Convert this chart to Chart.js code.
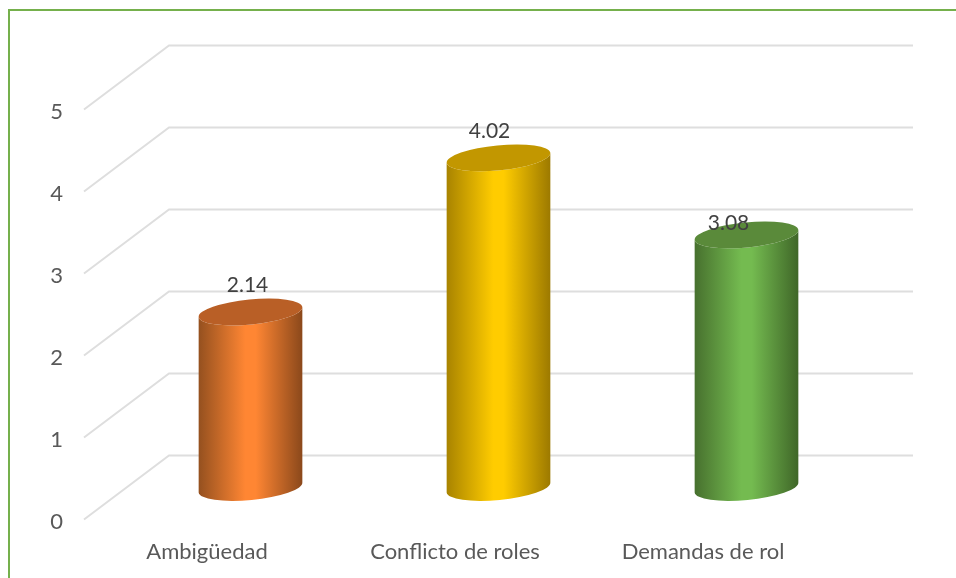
<!DOCTYPE html>
<html>
<head>
<meta charset="utf-8">
<title>Chart</title>
<script src="https://cdn.jsdelivr.net/npm/chart.js@4"></script>
<style>
  html, body { margin: 0; padding: 0; background: #fff; overflow: hidden; }
  #wrap { position: relative; width: 956px; height: 578px; }
  #frame { position: absolute; left: 8px; top: 9px; right: -4px; bottom: -4px; border: 2px solid #75b04c; }
  canvas { position: absolute; left: 0; top: 0; }
</style>
</head>
<body>
<div id="wrap">
  <div id="frame"></div>
  <canvas id="myChart" width="956" height="578"></canvas>
</div>
<script>
const categories = ['Ambigüedad', 'Conflicto de roles', 'Demandas de rol'];
const values = [2.14, 4.02, 3.08];
const yTicks = [0, 1, 2, 3, 4, 5];

// body colours: edge, middle, edge, then the flat top
const barColors = [
  ['#94501f', '#ff8633', '#8a481b', '#b95f26'],
  ['#a88300', '#ffcc00', '#9c7900', '#c29700'],
  ['#47702e', '#74bb50', '#3f6628', '#5a8a3a']
];
// the labels sit by hand in the original, not at one fixed distance
const labelNudge = [[-3, -27], [-9, -27], [-18, -12]];

const depthX = 85;
const depthY = 64;
const wallRight = 913;
const ringRatio = 0.24;
const ringTilt = -5.5 * Math.PI / 180;

const grid3d = {
  id: 'grid3d',
  beforeDatasetsDraw(chart) {
    const { ctx, scales: { y } } = chart;
    ctx.save();
    ctx.strokeStyle = '#dedede';
    ctx.lineWidth = 2;
    yTicks.forEach(t => {
      const py = y.getPixelForValue(t);
      ctx.beginPath();
      ctx.moveTo(y.right, py);
      ctx.lineTo(y.right + depthX, py - depthY);
      ctx.lineTo(wallRight, py - depthY);
      ctx.stroke();
    });
    ctx.restore();
  }
};

const cylinders = {
  id: 'cylinders',
  afterDatasetsDraw(chart) {
    const ctx = chart.ctx;
    const bars = chart.getDatasetMeta(0).data;
    bars.forEach((bar, i) => {
      const colors = barColors[i];
      const cx = bar.x + depthX / 2;
      const topY = bar.y - depthY / 2;
      const baseY = bar.base - depthY / 2;
      const rx = bar.width / 2;
      const ry = rx * ringRatio;
      const dx = rx * Math.cos(ringTilt);
      const dy = rx * Math.sin(ringTilt);

      const gradient = ctx.createLinearGradient(cx - rx, 0, cx + rx, 0);
      gradient.addColorStop(0, colors[0]);
      gradient.addColorStop(0.45, colors[1]);
      gradient.addColorStop(0.55, colors[1]);
      gradient.addColorStop(1, colors[2]);

      ctx.save();
      ctx.beginPath();
      ctx.moveTo(cx - dx, topY - dy);
      ctx.lineTo(cx - dx, baseY - dy);
      ctx.ellipse(cx, baseY, rx, ry, ringTilt, Math.PI, 0, true);
      ctx.lineTo(cx + dx, topY + dy);
      ctx.ellipse(cx, topY, rx, ry, ringTilt, 0, Math.PI, false);
      ctx.closePath();
      ctx.fillStyle = gradient;
      ctx.fill();

      ctx.beginPath();
      ctx.ellipse(cx, topY, rx, ry, ringTilt, 0, Math.PI * 2);
      ctx.fillStyle = colors[3];
      ctx.fill();

      ctx.fillStyle = '#404040';
      ctx.font = '21px Lato';
      ctx.textAlign = 'center';
      ctx.textBaseline = 'middle';
      ctx.fillText(values[i].toFixed(2), cx + labelNudge[i][0], topY + labelNudge[i][1]);
      ctx.restore();
    });
  }
};

new Chart(document.getElementById('myChart').getContext('2d'), {
  type: 'bar',
  data: {
    labels: categories,
    datasets: [{
      data: values,
      backgroundColor: 'rgba(0,0,0,0)',
      barPercentage: 0.42,
      categoryPercentage: 1
    }]
  },
  options: {
    responsive: false,
    animation: false,
    layout: { padding: { top: 109.5, right: 128, left: 0, bottom: 0 } },
    plugins: { legend: { display: false }, tooltip: { enabled: false } },
    scales: {
      x: {
        afterFit(scale) { scale.height = 58.5; },
        grid: { display: false, drawTicks: false },
        border: { display: false },
        ticks: { color: '#595959', font: { family: 'Lato', size: 22 }, padding: 19, maxRotation: 0, labelOffset: -1 }
      },
      y: {
        min: 0,
        max: 5,
        afterFit(scale) { scale.width = 84; },
        afterBuildTicks(scale) { scale.ticks = yTicks.map(v => ({ value: v })); },
        grid: { display: false, drawTicks: false },
        border: { display: false },
        ticks: { color: '#595959', font: { family: 'Lato', size: 22 }, padding: 21, labelOffset: 2 }
      }
    }
  },
  plugins: [grid3d, cylinders]
});
</script>
</body>
</html>
